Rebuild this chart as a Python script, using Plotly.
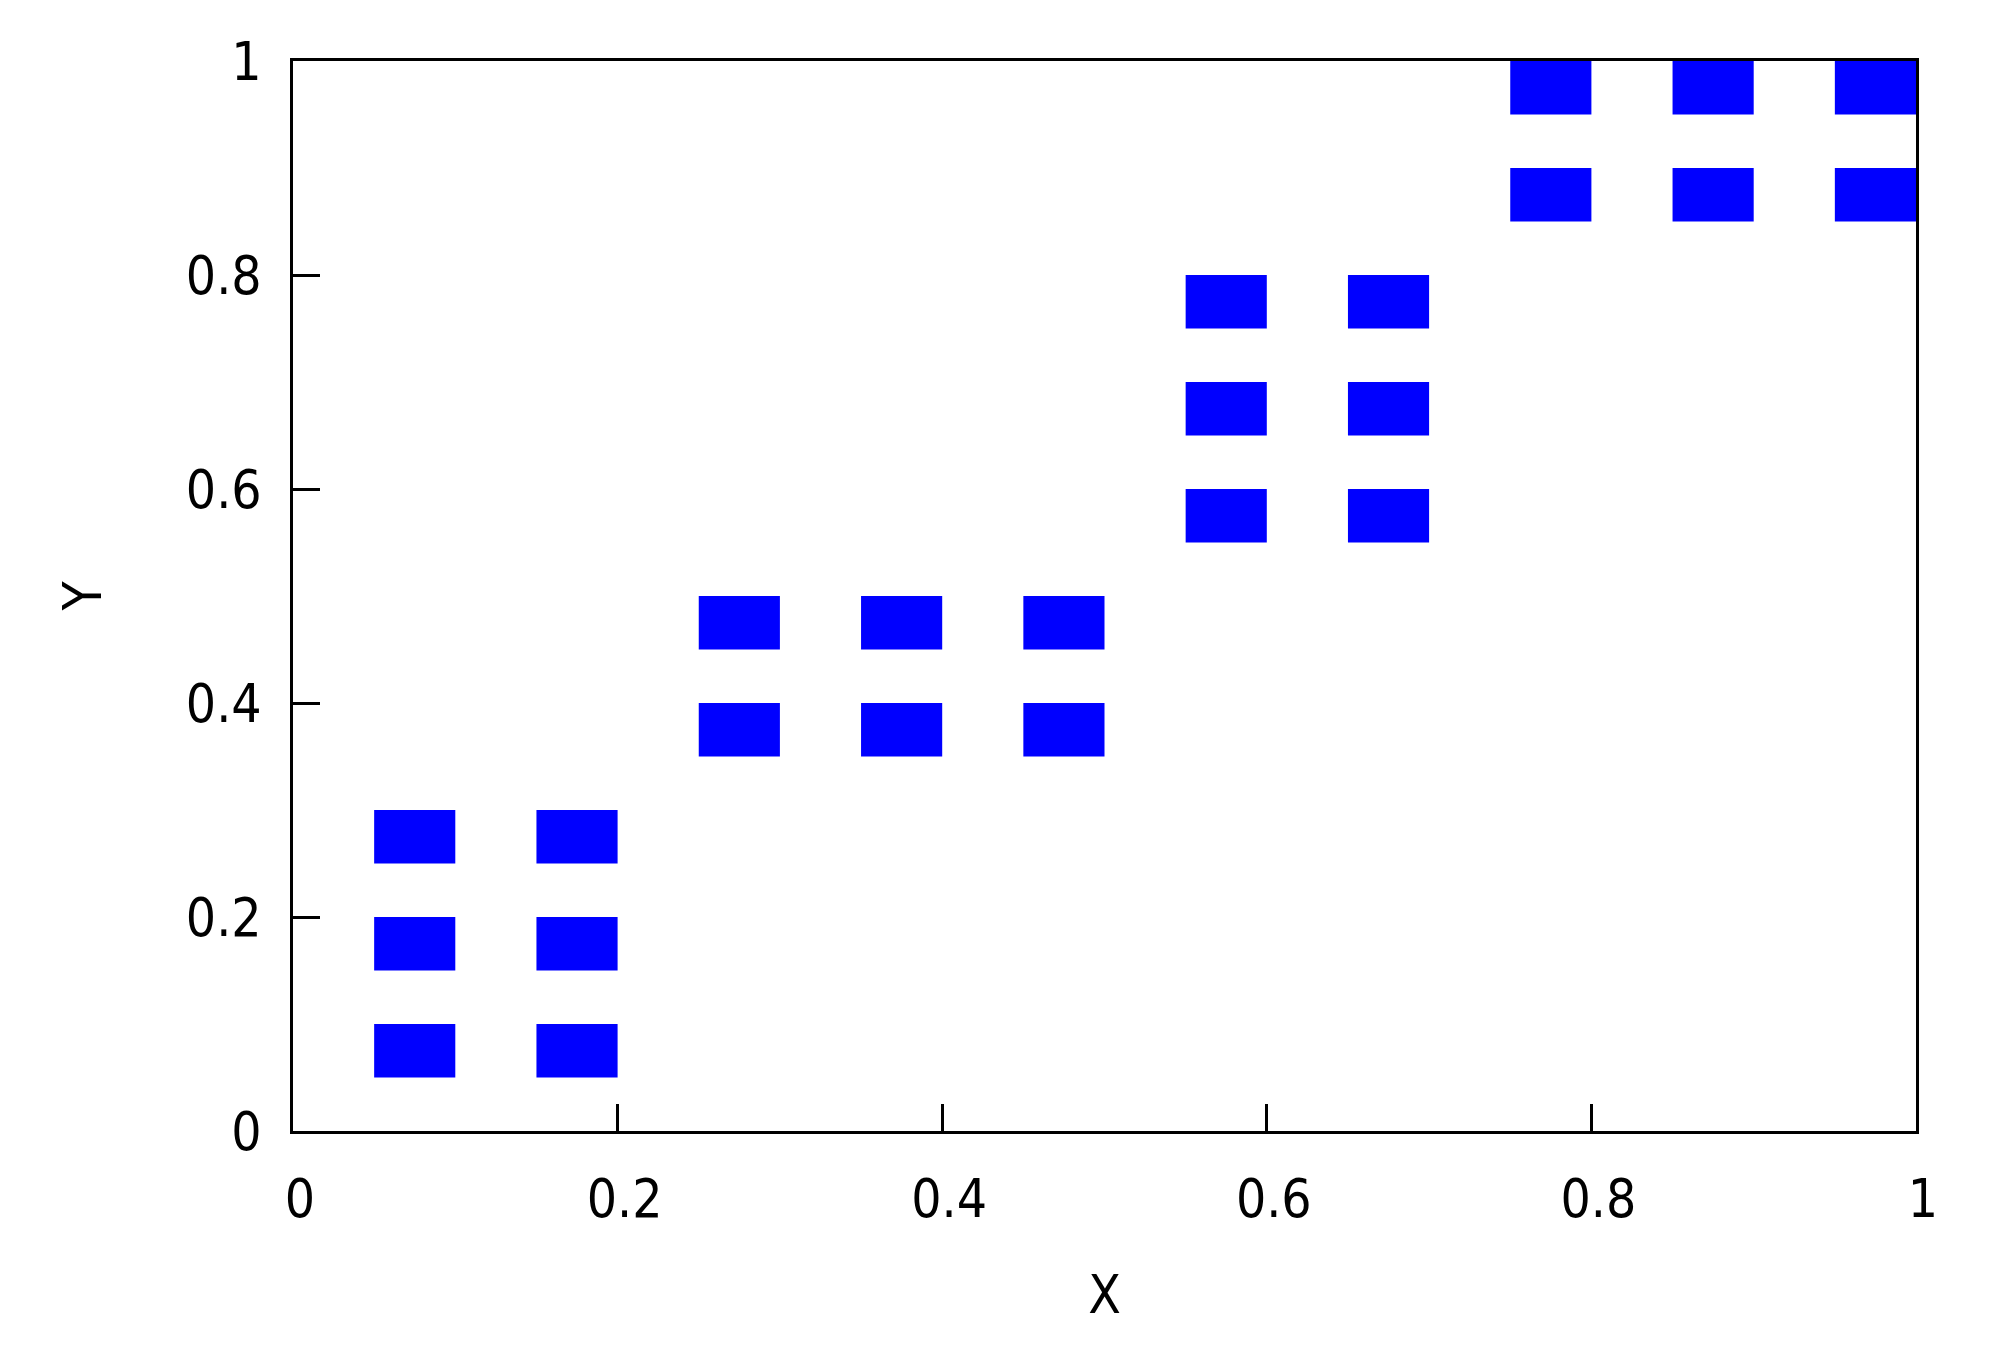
import plotly.graph_objects as go

# box centres and half sizes (gnuplot boxxyerror style: x y dx dy)
box_x = [0.075, 0.175, 0.075, 0.175, 0.075, 0.175,
         0.275, 0.375, 0.475, 0.275, 0.375, 0.475,
         0.575, 0.675, 0.575, 0.675, 0.575, 0.675,
         0.775, 0.875, 0.975, 0.775, 0.875, 0.975]
box_y = [0.075, 0.075, 0.175, 0.175, 0.275, 0.275,
         0.375, 0.375, 0.375, 0.475, 0.475, 0.475,
         0.575, 0.575, 0.675, 0.675, 0.775, 0.775,
         0.875, 0.875, 0.875, 0.975, 0.975, 0.975]
box_dx = [0.025] * len(box_x)
box_dy = [0.025] * len(box_y)

tick_vals = [0, 0.2, 0.4, 0.6, 0.8, 1]
tick_text = ["0", "0.2", "0.4", "0.6", "0.8", "1"]

FONT = "DejaVu Sans Condensed, DejaVu Sans, sans-serif"

fig = go.Figure()
fig.add_trace(go.Bar(
    x=box_x,
    y=[2 * d for d in box_dy],
    base=[y - d for y, d in zip(box_y, box_dy)],
    width=[2 * d for d in box_dx],
    marker=dict(color="#0000ff", line=dict(width=0)),
    showlegend=False,
))

axis_common = dict(
    range=[0, 1],
    tickvals=tick_vals,
    ticktext=tick_text,
    ticks="inside",
    ticklen=27,
    tickwidth=2.5,
    tickcolor="black",
    showline=True,
    linecolor="black",
    linewidth=2.5,
    mirror=True,
    showgrid=False,
    zeroline=False,
    tickfont=dict(family=FONT, size=53, color="black"),
)

fig.update_xaxes(**axis_common, ticklabelstandoff=20, ticklabelshift=7,
                 title=dict(text="X", font=dict(family=FONT, size=53, color="black"), standoff=48))
fig.update_yaxes(**axis_common, ticklabelstandoff=18,
                 title=dict(text="Y", font=dict(family=FONT, size=53, color="black"), standoff=68))

fig.update_layout(
    width=1996,
    height=1352,
    margin=dict(l=285, r=88, t=53, b=229),
    plot_bgcolor="white",
    paper_bgcolor="white",
    barmode="overlay",
)

fig.write_html("out.html")
